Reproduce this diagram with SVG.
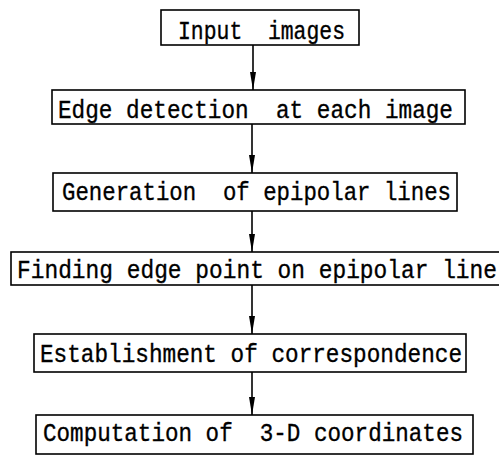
<svg xmlns="http://www.w3.org/2000/svg" width="499" height="457" viewBox="0 0 499 457">
<defs>
<marker id="ah" viewBox="0 0 18 6" refX="18" refY="3" markerWidth="18" markerHeight="6" markerUnits="userSpaceOnUse" orient="auto">
<path d="M0,0 L18,3 L0,6 Z" fill="#000"/>
</marker>
<style>
.box{fill:#fff;stroke:#000;stroke-width:1.6}
.t{font-family:"Liberation Mono","DejaVu Sans Mono",monospace;font-size:22.6px;fill:#000;stroke:#000;stroke-width:0.3}
.c{stroke:#000;stroke-width:1.6;fill:none}
</style>
</defs>
<rect width="499" height="457" fill="#fff"/>
<g id="connectors">
<line class="c" x1="253" y1="45" x2="253" y2="90" marker-end="url(#ah)"/>
<line class="c" x1="252" y1="124" x2="252" y2="173" marker-end="url(#ah)"/>
<line class="c" x1="252" y1="211" x2="252" y2="252" marker-end="url(#ah)"/>
<line class="c" x1="252" y1="285" x2="252" y2="334" marker-end="url(#ah)"/>
<line class="c" x1="252" y1="372" x2="252" y2="415" marker-end="url(#ah)"/>
</g>
<g id="n1"><rect class="box" x="161" y="10" width="198" height="35"/><text class="t" transform="translate(178 39) scale(1 1.1)" textLength="167" lengthAdjust="spacingAndGlyphs" xml:space="preserve">Input  images</text></g>
<g id="n2"><rect class="box" x="52" y="90" width="413" height="34"/><text class="t" transform="translate(58 118) scale(1 1.1)" textLength="395" lengthAdjust="spacingAndGlyphs" xml:space="preserve">Edge detection  at each image</text></g>
<g id="n3"><rect class="box" x="53" y="173" width="404" height="38"/><text class="t" transform="translate(62 200) scale(1 1.1)" textLength="389" lengthAdjust="spacingAndGlyphs" xml:space="preserve">Generation  of epipolar lines</text></g>
<g id="n4"><rect class="box" x="11" y="252" width="500" height="33"/><text class="t" transform="translate(17 278) scale(1 1.1)" textLength="480" lengthAdjust="spacingAndGlyphs" xml:space="preserve">Finding edge point on epipolar line</text></g>
<g id="n5"><rect class="box" x="34" y="334" width="432" height="38"/><text class="t" transform="translate(40 362) scale(1 1.1)" textLength="422" lengthAdjust="spacingAndGlyphs" xml:space="preserve">Establishment of correspondence</text></g>
<g id="n6"><rect class="box" x="36" y="415" width="437" height="39"/><text class="t" transform="translate(43 441) scale(1 1.1)" textLength="420" lengthAdjust="spacingAndGlyphs" xml:space="preserve">Computation of  3-D coordinates</text></g>
</svg>
